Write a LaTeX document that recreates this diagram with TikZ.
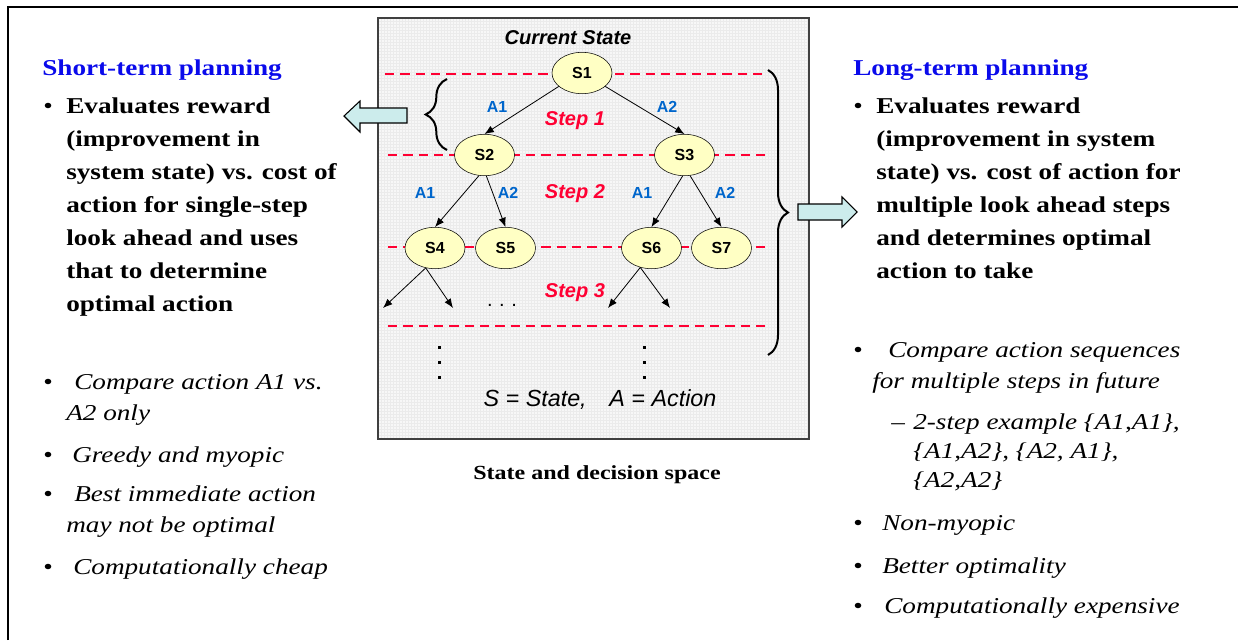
\documentclass[tikz,border=0pt]{standalone}
\usepackage{fontspec}
\setmainfont{Liberation Serif}[FakeStretch=1.2]
\newfontfamily\arial{Liberation Sans}
\usepackage{tikz}
\usetikzlibrary{arrows.meta}
\usetikzlibrary{shapes.geometric}
\usetikzlibrary{decorations.pathreplacing}
\definecolor{stateyellow}{RGB}{255,255,196}
\definecolor{stepred}{RGB}{255,0,51}
\definecolor{actblue}{RGB}{0,102,204}
\definecolor{titleblue}{RGB}{10,10,235}
\definecolor{arrowcyan}{RGB}{204,236,236}
\tikzstyle{state} = [draw,ellipse,fill=stateyellow,minimum width=45pt,minimum height=31pt,inner sep=0pt,font=\arial\bfseries\fontsize{12}{14}\selectfont]
\tikzstyle{act} = [text=actblue,font=\arial\bfseries\fontsize{12}{14}\selectfont]
\tikzstyle{steplbl} = [text=stepred,font=\arial\bfseries\itshape\fontsize{15}{17}\selectfont]
\tikzstyle{sepline} = [stepred,line width=1.5pt,dash pattern=on 7pt off 4.5pt]
\tikzstyle{blockarrow} = [draw,fill=arrowcyan,line width=0.8pt]
\tikzstyle{bul} = [anchor=base west,inner sep=0pt,font=\fontsize{17}{24.75}\selectfont]
% multi-line texts: the base anchor sits on the last line
\tikzstyle{boldtxt} = [anchor=base west,inner sep=0pt,align=left,font=\bfseries\fontsize{17}{24.75}\selectfont]
\tikzstyle{ittxt} = [anchor=base west,inner sep=0pt,align=left,font=\itshape\fontsize{17}{23.25}\selectfont]
\tikzstyle{subtxt} = [anchor=base west,inner sep=0pt,align=left,font=\itshape\fontsize{17}{21.75}\selectfont]

\begin{document}
\begin{tikzpicture}[x=0.75pt,y=-0.75pt,>={Latex[length=7pt,width=5.5pt]}]
\useasboundingbox (0,0) rectangle (1238,640);

% Frame
\draw[line width=1.5pt] (8,640) -- (8,7) -- (1238,7);

% State and decision space box
\fill[black!3] (378,18) rectangle (809,439);
\foreach \g in {381,384,...,807} \draw[black!8,line width=0.25pt] (\g,18) -- (\g,439);
\foreach \g in {21,24,...,437} \draw[black!8,line width=0.25pt] (378,\g) -- (809,\g);
\draw[black!75,line width=1.2pt] (378,18) rectangle (809,439);

% Step separators
\draw[sepline] (385,74) -- (765,74);
\draw[sepline] (388,155) -- (768,155);
\draw[sepline] (388,247) -- (768,247);
\draw[sepline] (388,326) -- (768,326);

% Draw states
\node[font=\arial\bfseries\itshape\fontsize{15}{17}\selectfont] at (568,38) (cur) {Current State};
\node[state] at (582,73) (s1) {S1};
\node[state] at (484.5,155) (s2) {S2};
\node[state] at (684.5,155) (s3) {S3};
\node[state] at (435,248) (s4) {S4};
\node[state] at (505.5,248) (s5) {S5};
\node[state] at (651.5,248) (s6) {S6};
\node[state] at (721.5,248) (s7) {S7};

\coordinate (l1) at (383,308);
\coordinate (l2) at (453,308);
\coordinate (l3) at (608,308);
\coordinate (l4) at (670,308);

% Actions
\draw[->,line width=0.6pt] (s1.210) -- (s2.north);
\draw[->,line width=0.6pt] (s1.330) -- (s3.north);
\draw[->,line width=0.6pt] (s2.255) -- (s4.north);
\draw[->,line width=0.6pt] (s2.275) -- (s5.north);
\draw[->,line width=0.6pt] (s3.265) -- (s6.north);
\draw[->,line width=0.6pt] (s3.285) -- (s7.north);
\draw[->,line width=0.6pt] (s4.245) -- (l1);
\draw[->,line width=0.6pt] (s4.245) -- (l2);
\draw[->,line width=0.6pt] (s6.240) -- (l3);
\draw[->,line width=0.6pt] (s6.240) -- (l4);

\node[act] at (497,107) (a1top) {A1};
\node[act] at (667,107) (a2top) {A2};
\node[act] at (425,193) (a1l) {A1};
\node[act] at (508,193) (a2l) {A2};
\node[act] at (642,193) (a1r) {A1};
\node[act] at (725,193) (a2r) {A2};

\node[steplbl] at (575,121) (step1) {Step 1};
\node[steplbl] at (575,194) (step2) {Step 2};
\node[steplbl] at (575,293) (step3) {Step 3};

% More levels
\node[font=\arial\fontsize{15}{17}\selectfont] at (502,305) (hdots) {.\hspace{5pt}.\hspace{5pt}.};
\foreach \y in {347,362,377} {
    \fill (437.5,\y-1.5) rectangle +(3,3);
    \fill (642.5,\y-1.5) rectangle +(3,3);
}
\node[font=\arial\itshape\fontsize{17.5}{20}\selectfont] at (600,400) (legend) {S = State,\hspace{17pt}A = Action};

% Braces and block arrows
\draw[line width=1.5pt,decorate,decoration={brace,amplitude=16pt}] (447,150) -- (447,79);
\draw[line width=1.5pt,decorate,decoration={brace,amplitude=15pt}] (768,70) -- (768,355);
\draw[blockarrow] (407,108) -- (360,108) -- (360,101) -- (344,116) -- (360,132) -- (360,123) -- (407,123) -- cycle;
\draw[blockarrow] (798,204) -- (842,204) -- (842,197) -- (857,212) -- (842,227) -- (842,220) -- (798,220) -- cycle;

\node[anchor=base,font=\bfseries\fontsize{15}{18}\selectfont] at (597,479) (caption) {State and decision space};

% Short-term planning
\node[boldtxt,text=titleblue] at (42,75) (shortttl) {Short-term planning};
\node[bul] at (43,113) (sbul1) {•};
\node[boldtxt] at (66,311) (sbody) {Evaluates reward\\(improvement in\\system state) vs. cost of\\action for single-step\\look ahead and uses\\that to determine\\optimal action};
\node[bul] at (43,389) (sbul2) {•};
\node[ittxt] at (66,420) (sit1) {\hspace*{6pt}Compare action A1 vs.\\A2 only};
\node[bul] at (43,462) (sbul3) {•};
\node[ittxt] at (72,462) (sit2) {Greedy and myopic};
\node[bul] at (43,501) (sbul4) {•};
\node[ittxt] at (66,532) (sit3) {\hspace*{6pt}Best immediate action\\may not be optimal};
\node[bul] at (43,574) (sbul5) {•};
\node[ittxt] at (73,574) (sit4) {Computationally cheap};

% Long-term planning
\node[boldtxt,text=titleblue] at (853,75) (longttl) {Long-term planning};
\node[bul] at (853,113) (lbul1) {•};
\node[boldtxt] at (876,278) (lbody) {Evaluates reward\\(improvement in system\\state) vs. cost of action for\\multiple look ahead steps\\and determines optimal\\action to take};
\node[bul] at (853,357) (lbul2) {•};
\node[ittxt] at (872,388) (lit1) {\hspace*{12pt}Compare action sequences\\for multiple steps in future};
\node[bul] at (891,429) (ldash) {–};
\node[subtxt] at (913,487) (lsub) {2-step example \{A1,A1\},\\\{A1,A2\}, \{A2, A1\},\\\{A2,A2\}};
\node[bul] at (853,530) (lbul3) {•};
\node[ittxt] at (882,530) (lit2) {Non-myopic};
\node[bul] at (853,573) (lbul4) {•};
\node[ittxt] at (882,573) (lit3) {Better optimality};
\node[bul] at (853,613) (lbul5) {•};
\node[ittxt] at (884,613) (lit4) {Computationally expensive};

\end{tikzpicture}
\end{document}
